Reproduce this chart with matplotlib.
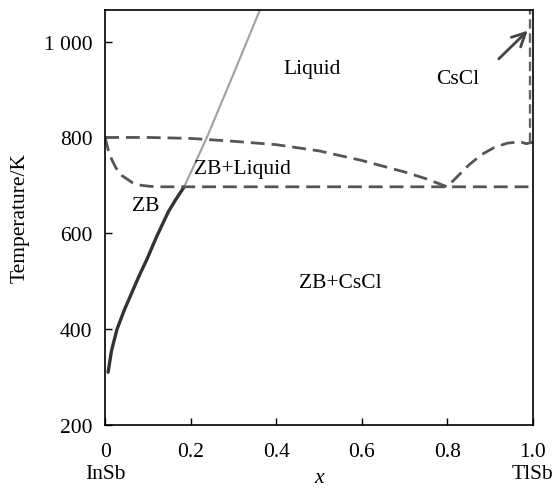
import matplotlib
matplotlib.use("Agg")
import matplotlib.pyplot as plt

plt.rcParams['font.family'] = ['Liberation Serif', 'DejaVu Serif']

# ZB solidus/liquidus solid curve (dark lower part, light upper part)
solid_x = [0.007, 0.015, 0.028, 0.045, 0.063, 0.08, 0.098, 0.12, 0.148, 0.165, 0.185]
solid_T = [310, 355, 400, 440, 477, 512, 546, 592, 645, 670, 697]
light_x = [0.185, 0.238, 0.30, 0.362]
light_T = [697, 800, 932, 1066]

# upper dashed liquidus
liq_x = [0.0, 0.1, 0.2, 0.3, 0.4, 0.5, 0.6, 0.7, 0.75, 0.8,
         0.82, 0.85, 0.88, 0.91, 0.94, 0.97, 0.985, 1.0]
liq_T = [800, 800, 798, 792, 785, 772, 752, 728, 714, 697,
         715, 742, 764, 779, 788, 791, 787, 790]

# lower dashed curve (ZB boundary then eutectic line)
low_x = [0.0, 0.003, 0.008, 0.015, 0.025, 0.04, 0.065, 0.085, 0.105, 0.13, 0.15, 0.5, 1.0]
low_T = [800, 789, 772, 755, 737, 720, 705, 700, 698, 697, 697, 697, 697]

# vertical CsCl boundary near x = 1
vert_x = [0.993, 0.993]
vert_T = [790, 1066]

xticks = [0, 0.2, 0.4, 0.6, 0.8, 1.0]
xticklabels = ['0\nInSb', '0.2', '0.4', '0.6', '0.8', '1.0\nTlSb']
yticks = [200, 400, 600, 800, 1000]
yticklabels = ['200', '400', '600', '800', '1 000']

labels = [('Liquid', 0.484, 944), ('CsCl', 0.825, 923), ('ZB+Liquid', 0.322, 735),
          ('ZB', 0.096, 658), ('ZB+CsCl', 0.55, 497)]

fig = plt.figure(figsize=(5.59, 4.89), dpi=100)
ax = fig.add_axes([0.188, 0.129, 0.765, 0.8485])

dash = (0, (5, 2.5))
ax.plot(solid_x, solid_T, color='#333333', lw=2.4, solid_capstyle='round')
ax.plot(light_x, light_T, color='#a0a0a0', lw=1.5)
ax.plot(liq_x, liq_T, color='#555555', lw=2.0, linestyle=dash)
ax.plot(low_x, low_T, color='#555555', lw=2.0, linestyle=dash)
ax.plot(vert_x, vert_T, color='#666666', lw=1.7, linestyle=(0, (4, 2)))

ax.annotate('', xy=(0.993, 1027), xytext=(0.916, 960),
            arrowprops=dict(arrowstyle='->', color='#444444', lw=2.0, mutation_scale=24))

for t, x, y in labels:
    ax.text(x, y, t, fontsize=15.5, ha='center', va='center')

ax.set_xlim(0, 1.0)
ax.set_ylim(200, 1066)
ax.set_xticks(xticks)
ax.set_xticklabels(xticklabels, fontsize=15.5, linespacing=1.25)
ax.set_yticks(yticks)
ax.set_yticklabels(yticklabels, fontsize=15.5)
ax.tick_params(axis='x', direction='in', length=5, width=1, top=False, pad=12)
ax.tick_params(axis='y', direction='in', length=5, width=1, right=False, pad=9)
ax.set_xlabel('x', fontsize=15.5, style='italic', labelpad=-11)
ax.set_ylabel('Temperature/K', fontsize=15.5, labelpad=10)
for s in ax.spines.values():
    s.set_linewidth(1.2)

fig.savefig('out.png', dpi=100)
